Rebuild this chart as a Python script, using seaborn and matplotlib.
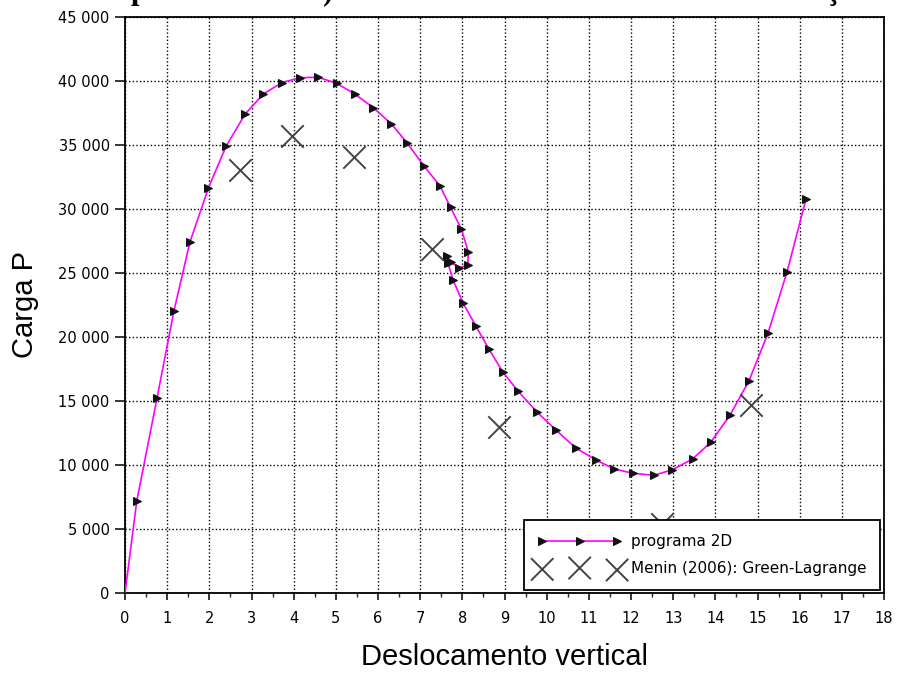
import numpy as np
import pandas as pd
import matplotlib
matplotlib.use("Agg")
import matplotlib.pyplot as plt
from matplotlib.ticker import MultipleLocator, FuncFormatter
import seaborn as sns

# ---- data ----
prog_x = [0.0, 0.28, 0.76, 1.16, 1.54, 1.98, 2.40, 2.85, 3.28, 3.72, 4.15, 4.58,
          5.02, 5.45, 5.89, 6.32, 6.69, 7.09, 7.47, 7.72, 7.98, 8.14, 8.13, 7.92,
          7.73, 7.63, 7.66, 7.78, 8.02, 8.32, 8.63, 8.96, 9.32, 9.77, 10.22, 10.69,
          11.17, 11.60, 12.05, 12.54, 12.97, 13.46, 13.89, 14.35, 14.80, 15.25,
          15.70, 16.15]
prog_y = [0, 7190, 15230, 22030, 27420, 31660, 34920, 37420, 38980, 39870, 40260,
          40290, 39820, 38980, 37910, 36640, 35160, 33360, 31800, 30130, 28410,
          26660, 25630, 25390, 25860, 26330, 25780, 24450, 22630, 20860, 19060,
          17270, 15780, 14140, 12730, 11330, 10390, 9690, 9350, 9200, 9610, 10470,
          11770, 13910, 16590, 20310, 25080, 30780]

menin_x = [2.73, 3.96, 5.43, 7.27, 8.87, 12.73, 14.85]
menin_y = [33050, 35700, 34040, 26870, 12970, 5390, 14690]

x_label = "Deslocamento vertical"
y_label = "Carga P"
series_names = ["programa 2D", "Menin (2006): Green-Lagrange"]

df_prog = pd.DataFrame({"x": prog_x, "y": prog_y})
df_menin = pd.DataFrame({"x": menin_x, "y": menin_y})

sns.set_style("white")
plt.rcParams["font.family"] = ["DejaVu Sans"]
plt.rcParams["text.color"] = "black"
plt.rcParams["axes.labelcolor"] = "black"

fig = plt.figure(figsize=(8.97, 6.75), dpi=100)
ax = fig.add_axes([125 / 897, 1 - 593 / 675, 759 / 897, 576 / 675])

sns.lineplot(data=df_prog, x="x", y="y", sort=False, estimator=None, ax=ax,
             color="#ff00ff", linewidth=1.2, marker=">", markersize=5.5,
             markerfacecolor="#111111", markeredgecolor="#111111",
             markevery=list(range(1, len(prog_x))), label=series_names[0],
             zorder=3)
sns.scatterplot(data=df_menin, x="x", y="y", ax=ax, marker="x", s=260,
                color="#444444", linewidth=1.4, label=series_names[1], zorder=4)

ax.set_xlim(0, 18)
ax.set_ylim(0, 45000)
ax.xaxis.set_major_locator(MultipleLocator(1))
ax.xaxis.set_minor_locator(MultipleLocator(0.5))
ax.yaxis.set_major_locator(MultipleLocator(5000))
ax.yaxis.set_major_formatter(FuncFormatter(lambda v, p: f"{int(v):,}".replace(",", " ")))

ax.grid(True, which="major", color="black", linestyle=(0, (1, 1.6)), linewidth=1.0)
for s in ax.spines.values():
    s.set_visible(True)
    s.set_color("black")
    s.set_linewidth(1.3)

ax.tick_params(axis="x", which="major", direction="out", length=5, width=1.1,
               labelsize=10.5, pad=8, bottom=True, top=False, colors="black")
ax.tick_params(axis="x", which="minor", direction="out", length=3, width=1.0,
               bottom=True, top=False)
ax.tick_params(axis="y", which="major", direction="out", length=7, width=1.1,
               labelsize=10.5, pad=4, left=True, right=False, colors="black")

ax.set_xlabel(x_label, fontsize=21, family="Liberation Sans", labelpad=12,
              color="black")
ax.set_ylabel(y_label, fontsize=21, family="Liberation Sans", labelpad=14,
              color="black")

leg = ax.legend(loc="lower right", bbox_to_anchor=(0.995, 0.005), borderaxespad=0,
                fontsize=11, numpoints=3, scatterpoints=3, handlelength=5.5,
                handletextpad=0.6, borderpad=0.9, labelspacing=0.8,
                frameon=True, fancybox=False, framealpha=1, edgecolor="black")
leg.get_frame().set_linewidth(1.3)
for t in leg.get_texts():
    t.set_color("black")

# cut-off title fragments at the very top of the page crop
for px, ch in [(131, "p"), (323, ")"), (826, "ç")]:
    fig.text(px / 897, 1 + 1 / 675, ch, fontsize=22, fontweight="bold",
             family="Liberation Serif", ha="left", va="baseline")

fig.savefig("out.png", dpi=100)
